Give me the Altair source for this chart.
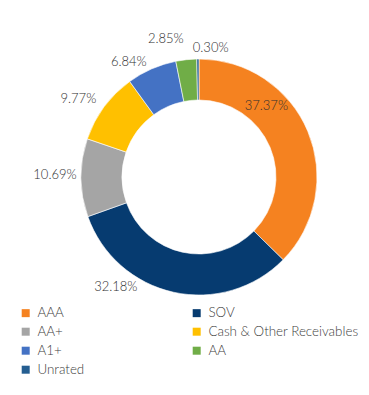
import altair as alt
import pandas as pd

categories = ["AAA", "SOV", "AA+", "Cash & Other Receivables", "A1+", "AA", "Unrated"]
values = [37.37, 32.18, 10.69, 9.77, 6.84, 2.85, 0.30]
labels = ["37.37%", "32.18%", "10.69%", "9.77%", "6.84%", "2.85%", "0.30%"]
colors = ["#F58220", "#063B70", "#A5A5A5", "#FFC000", "#4472C4", "#70AD47", "#255E91"]

# legend reads row by row in two columns (Vega fills columns first)
legend_order = ["AAA", "AA+", "A1+", "Unrated", "SOV", "Cash & Other Receivables", "AA"]
legend_colors = [colors[categories.index(c)] for c in legend_order]

df = pd.DataFrame({"cat": categories, "val": values, "lab": labels, "idx": list(range(len(categories)))})

FONT = "Lato"
CX, CY = 191, 169
TXT = dict(font=FONT, fontSize=13, color="#303030", fontWeight=300)

base = alt.Chart(df).encode(
    theta=alt.Theta("val:Q", stack=True),
    order=alt.Order("idx:Q"),
    x=alt.value(CX),
    y=alt.value(CY),
)

arcs = base.mark_arc(outerRadius=118, innerRadius=77, stroke="white", strokeWidth=0.6).encode(
    color=alt.Color(
        "cat:N",
        scale=alt.Scale(domain=legend_order, range=legend_colors),
        legend=alt.Legend(
            title=None,
            orient="none",
            legendX=11,
            legendY=298,
            columns=2,
            columnPadding=105,
            rowPadding=4,
            symbolType="square",
            symbolSize=64,
            symbolStrokeWidth=0,
            labelFont=FONT,
            labelFontSize=13.4,
            labelFontWeight=300,
            labelColor="#404040",
            labelOffset=5,
            labelLimit=300,
        ),
    )
)

# label placement nudges (radius, dx, dy) per slice, as in the reference's best-fit labels
nudges = {
    "AAA": (98, -23, -33),
    "SOV": (140, -53, -27),
    "AA+": (140, -4, -3),
    "Cash & Other Receivables": (140, -8, 5),
    "A1+": (140, -14, 13),
    "AA": (140, -18, 1),
    "Unrated": (140, 13, 11),
}

layers = [arcs]
for cat, (r, dx, dy) in nudges.items():
    layers.append(
        base.mark_text(radius=r, dx=dx, dy=dy, **TXT).encode(
            text=alt.condition(alt.datum.cat == cat, "lab:N", alt.value(""))
        )
    )

chart = alt.layer(*layers).properties(
    width=353, height=379, padding=0, autosize=alt.AutoSizeParams(type="none")
).configure_view(stroke=None)

chart.save("out.html", embed_options={"renderer": "svg", "actions": False})
